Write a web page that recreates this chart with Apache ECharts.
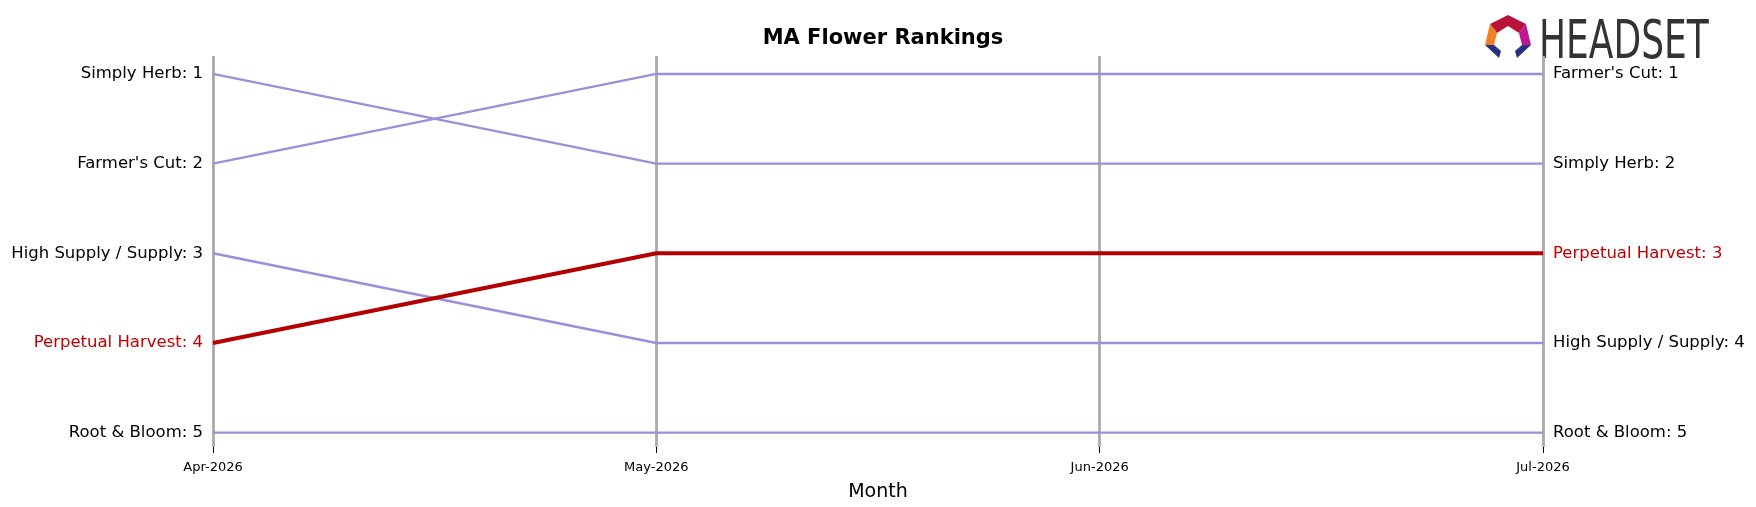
<!DOCTYPE html>
<html><head><meta charset="utf-8">
<script src="https://cdn.jsdelivr.net/npm/echarts@6/dist/echarts.min.js"></script>
<style>html,body{margin:0;padding:0;background:#fff}#c{width:1756px;height:507px}</style>
</head><body><div id="c"></div>
<script>
const months = ['Apr-2026','May-2026','Jun-2026','Jul-2026'];
const brands = ['Simply Herb','Farmer\'s Cut','High Supply / Supply','Perpetual Harvest','Root & Bloom'];
const ranks = {
  'Simply Herb':[1,2,2,2],
  'Farmer\'s Cut':[2,1,1,1],
  'High Supply / Supply':[3,4,4,4],
  'Perpetual Harvest':[4,3,3,3],
  'Root & Bloom':[5,5,5,5]
};
const rankTicks = [1,2,3,4,5];
const highlight = 'Perpetual Harvest';
function labelAt(idx){
  return function(v){
    const b = brands.find(n=>ranks[n][idx]===v);
    if(!b) return '';
    return b===highlight ? '{h|'+b+': '+v+'}' : '{n|'+b+': '+v+'}';
  };
}
const rich = {n:{color:'#000',fontSize:16.5,fontFamily:'DejaVu Sans'},h:{color:'#c00000',fontSize:16.5,fontFamily:'DejaVu Sans'}};
const series = brands.map(b=>({
  type:'line', name:b, data:ranks[b], symbol:'none', yAxisIndex:0,
  lineStyle:{color: b===highlight?'#b30000':'#9b8fdb', width: b===highlight?4:2.4},
  z: b===highlight?5:3
}));
const chart = echarts.init(document.getElementById('c'));
chart.setOption({
  animation:false,
  title:{text:'MA Flower Rankings',left:878,top:23,textAlign:'center',textStyle:{fontSize:21,fontWeight:'bold',fontFamily:'DejaVu Sans',color:'#000'}},
  grid:{left:213,right:213,top:56,bottom:57},
  xAxis:{type:'category',data:months,boundaryGap:false,name:'Month',nameLocation:'middle',nameGap:36,
    nameTextStyle:{fontSize:19,fontFamily:'DejaVu Sans',color:'#000'},
    axisLine:{show:false},axisTick:{show:true,length:6,lineStyle:{color:'#000'}},
    axisLabel:{fontSize:13,color:'#000',fontFamily:'DejaVu Sans',margin:14},
    splitLine:{show:true,lineStyle:{color:'#aaaaaa',width:2.8}}},
  yAxis:[
    {type:'value',inverse:true,min:0.8,max:5.16,axisLine:{show:false},axisTick:{show:false},splitLine:{show:false},
     axisLabel:{customValues:rankTicks,formatter:labelAt(0),rich:rich,margin:10}},
    {type:'value',inverse:true,min:0.8,max:5.16,position:'right',axisLine:{show:false},axisTick:{show:false},splitLine:{show:false},
     axisLabel:{customValues:rankTicks,formatter:labelAt(3),rich:rich,margin:10,align:'left'}}
  ],
  series:series,
  graphic:[
    {type:'group',left:1485,top:15,children:[
      {type:'polygon',shape:{points:[[5,9],[23,0],[41,9],[34,18],[23,11],[12,18]]},style:{fill:'#b8143a'}},
      {type:'polygon',shape:{points:[[5,9],[12,18],[9,30],[0,30]]},style:{fill:'#f08020'}},
      {type:'polygon',shape:{points:[[41,9],[46,30],[37,30],[34,18]]},style:{fill:'#c01890'}},
      {type:'polygon',shape:{points:[[0,30],[9,30],[16,36],[14,43]]},style:{fill:'#283080'}},
      {type:'polygon',shape:{points:[[46,30],[37,30],[30,36],[32,43]]},style:{fill:'#283080'}}
    ]},
    {type:'text',x:1539,y:17,scaleY:1.35,style:{text:'HEADSET',fontSize:40,fontFamily:'DejaVu Sans Condensed',fill:'#333'}}
  ]
});
</script></body></html>
